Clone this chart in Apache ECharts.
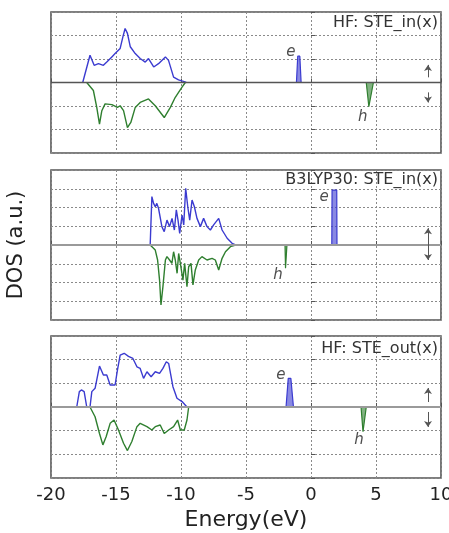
<!DOCTYPE html>
<html>
<head>
<meta charset="utf-8">
<script src="https://cdn.jsdelivr.net/npm/echarts@6/dist/echarts.min.js"></script>
<style>
  html, body { margin: 0; padding: 0; background: #fff; }
  #main { width: 449px; height: 533px; }
</style>
</head>
<body>
<div id="main"></div>
<script>
// energy axis ticks
const energyTicks = [-20, -15, -10, -5, 0, 5, 10];

// panel 1: HF STE_in(x)  [energy, DOS]
const p1Up = [[-17.56,0],[-17.0,1.16],[-16.68,0.73],[-16.35,0.8],[-15.97,0.73],[-15.71,0.87],[-15.32,1.09],[-15.07,1.23],[-14.68,1.45],[-14.47,1.94],[-14.3,2.3],[-14.12,2.09],[-13.9,1.52],[-13.52,1.23],[-13.14,1.02],[-12.75,0.87],[-12.5,1.02],[-12.1,0.66],[-11.73,0.8],[-11.2,1.09],[-10.96,0.94],[-10.57,0.23],[-10.19,0.11],[-9.75,0.04],[-9.6,0]];
const p1Down = [[-17.25,0],[-16.74,-0.34],[-16.48,-1.06],[-16.27,-1.77],[-16.09,-1.2],[-15.84,-0.91],[-15.32,-0.94],[-14.89,-1.06],[-14.68,-0.99],[-14.42,-1.2],[-14.12,-1.92],[-13.86,-1.7],[-13.52,-1.06],[-13.14,-0.85],[-12.5,-0.7],[-11.98,-0.99],[-11.29,-1.49],[-10.82,-1.06],[-10.44,-0.63],[-9.92,-0.2],[-9.67,0]];
const p1E = [[-1.12,0],[-1.02,1.12],[-0.86,1.12],[-0.76,0]];
const p1H = [[4.25,0],[4.45,-1.03],[4.55,-1.03],[4.8,0]];

// panel 2: B3LYP30 STE_in(x)
const p2Up = [[-12.37,0],[-12.24,2.58],[-12.11,2.22],[-11.98,2.04],[-11.86,2.22],[-11.73,1.96],[-11.6,2.04],[-11.47,0.98],[-11.29,0.71],[-11.08,1.33],[-10.88,0.98],[-10.69,1.42],[-10.51,0.8],[-10.36,1.87],[-10.23,1.33],[-10.1,0.62],[-9.92,1.6],[-9.79,1.07],[-9.64,3.02],[-9.48,2.04],[-9.33,1.33],[-9.15,2.4],[-8.97,2.04],[-8.77,1.42],[-8.51,0.98],[-8.26,1.42],[-8.0,0.98],[-7.74,0.8],[-7.49,1.07],[-7.1,1.42],[-6.84,0.8],[-6.45,0.36],[-6.07,0.09],[-5.8,0]];
const p2Down = [[-12.37,0],[-11.98,-0.27],[-11.8,-0.8],[-11.65,-1.87],[-11.54,-3.2],[-11.39,-2.22],[-11.2,-0.8],[-11.08,-0.62],[-10.88,-0.8],[-10.7,-0.98],[-10.57,-0.36],[-10.44,-0.8],[-10.3,-1.51],[-10.18,-0.45],[-10.05,-0.98],[-9.85,-1.87],[-9.72,-0.98],[-9.54,-2.22],[-9.41,-1.16],[-9.23,-0.98],[-9.08,-2.13],[-8.9,-1.33],[-8.64,-0.8],[-8.39,-0.62],[-8.0,-0.8],[-7.61,-0.71],[-7.36,-0.8],[-7.1,-1.33],[-6.84,-0.71],[-6.58,-0.36],[-6.2,-0.09],[-5.8,0]];
const p2E = [[1.6,0],[1.62,2.93],[1.98,2.93],[2.0,0]];
const p2H = [[-2.0,0],[-1.96,-1.24],[-1.88,-1.24],[-1.85,0]];

// panel 3: HF STE_out(x)
const p3Up = [[-18.02,0],[-17.82,0.65],[-17.66,0.72],[-17.45,0.65],[-17.25,0],[-17.0,0],[-16.86,0.65],[-16.61,0.79],[-16.27,1.73],[-15.97,1.35],[-15.71,1.35],[-15.45,0.93],[-15.07,0.93],[-14.89,1.56],[-14.68,2.19],[-14.37,2.27],[-14.04,2.14],[-13.7,2.05],[-13.39,1.7],[-13.14,1.63],[-12.88,1.21],[-12.62,1.49],[-12.3,1.28],[-11.98,1.49],[-11.65,1.42],[-11.39,1.63],[-11.13,1.91],[-10.95,1.84],[-10.62,0.86],[-10.31,0.37],[-9.92,0.23],[-9.54,0]];
const p3Down = [[-17.0,0],[-16.61,-0.41],[-16.27,-1.12],[-16.01,-1.6],[-15.76,-1.26],[-15.45,-0.69],[-15.15,-0.55],[-14.81,-0.97],[-14.42,-1.53],[-14.12,-1.84],[-13.78,-1.46],[-13.39,-0.83],[-13.14,-0.69],[-12.62,-0.83],[-12.24,-0.97],[-11.98,-0.83],[-11.6,-0.76],[-11.29,-1.12],[-10.95,-0.97],[-10.57,-0.83],[-10.26,-0.55],[-10.05,-0.97],[-9.75,-0.97],[-9.54,-0.55],[-9.41,0]];
const p3E = [[-1.92,0],[-1.75,1.21],[-1.55,1.21],[-1.35,0]];
const p3H = [[3.85,0],[4.0,-1.04],[4.1,-1.04],[4.25,0]];

// e / h tags  [text, energy, DOS]
const p1Tags = [['e', -1.54, 1.28], ['h', 3.98, -1.48]];
const p2Tags = [['e', 1.0, 2.58], ['h', -2.54, -1.6]];
const p3Tags = [['e', -2.31, 1.35], ['h', 3.69, -1.39]];

const panelTitles = ['HF: STE_in(x)', 'B3LYP30: STE_in(x)', 'HF: STE_out(x)'];
const dosRanges = [3, 4, 3];

const BLUE = '#3b3bd0';
const GREEN = '#2f7f2f';

const grids = [
    {left: 51, top: 12, width: 390, height: 141},
    {left: 51, top: 170, width: 390, height: 150},
    {left: 51, top: 336, width: 390, height: 142}
];

const dotted = {show: true, lineStyle: {color: '#8a8a8a', type: [2, 2], width: 1}};

let myChart = echarts.init(document.getElementById('main'));

let xAxes = [], yAxes = [], series = [];

grids.forEach((g, i) => {
    const last = i === grids.length - 1;
    xAxes.push({
        type: 'value', gridIndex: i, min: energyTicks[0], max: energyTicks[energyTicks.length - 1], interval: 5,
        axisLine: {show: false},
        axisTick: {show: true, inside: true, length: 4, lineStyle: {color: '#555'}},
        axisLabel: {show: last, fontSize: 18, color: '#222', fontFamily: 'DejaVu Sans', margin: 8},
        splitLine: dotted,
        name: last ? 'Energy(eV)' : '',
        nameLocation: 'middle', nameGap: 31,
        nameTextStyle: {fontSize: 22, color: '#222', fontFamily: 'DejaVu Sans'}
    });
    yAxes.push({
        type: 'value', gridIndex: i, min: -dosRanges[i], max: dosRanges[i], interval: 1,
        axisLine: {show: false},
        axisTick: {show: true, inside: true, length: 4, lineStyle: {color: '#555'}},
        axisLabel: {show: false},
        splitLine: dotted,
        name: i === 1 ? 'DOS (a.u.)' : '',
        nameLocation: 'middle', nameGap: 24,
        nameTextStyle: {fontSize: 21, color: '#222', fontFamily: 'DejaVu Sans'}
    });
});

const curves = [[p1Up, p1Down, p1E, p1H], [p2Up, p2Down, p2E, p2H], [p3Up, p3Down, p3E, p3H]];
const tags = [p1Tags, p2Tags, p3Tags];

// zero line + spin arrows
const zeroStyles = [{color: '#555', width: 1.3}, {color: '#9a9a9a', width: 2.2}, {color: '#9a9a9a', width: 2.2}];
const arrows = [
    [[[9, 0.22], [9, 0.75], 'none', 'arrow'], [[9, -0.42], [9, -0.85], 'none', 'arrow']],
    [[[9, 0.9], [9, -0.8], 'arrow', 'arrow']],
    [[[9, 0.21], [9, 0.8], 'none', 'arrow'], [[9, -0.21], [9, -0.84], 'none', 'arrow']]
];

curves.forEach((c, i) => {
    const [up, down, e, h] = c;
    const base = {type: 'line', xAxisIndex: i, yAxisIndex: i, showSymbol: false, symbol: 'none', silent: true, animation: false};
    series.push(Object.assign({}, base, {
        data: [],
        markLine: {
            silent: true, animation: false, symbolSize: 6, symbol: ['none', 'none'],
            label: {show: false},
            data: [{yAxis: 0, lineStyle: Object.assign({type: 'solid'}, zeroStyles[i])}]
                .concat(arrows[i].map(a => [
                    {coord: a[0], symbol: a[2], lineStyle: {color: '#555', width: 1, type: 'solid'}},
                    {coord: a[1], symbol: a[3]}
                ]))
        }
    }));
    series.push(Object.assign({}, base, {data: up, lineStyle: {color: BLUE, width: 1.4}}));
    series.push(Object.assign({}, base, {data: down, lineStyle: {color: GREEN, width: 1.4}}));
    series.push(Object.assign({}, base, {data: e, lineStyle: {color: BLUE, width: 1.2}, areaStyle: {color: BLUE, opacity: 0.6}}));
    series.push(Object.assign({}, base, {data: h, lineStyle: {color: GREEN, width: 1.2}, areaStyle: {color: GREEN, opacity: 0.6}}));
    series.push({
        type: 'scatter', xAxisIndex: i, yAxisIndex: i, symbolSize: 0, silent: true, animation: false,
        data: tags[i].map(t => ({value: [t[1], t[2]], name: t[0]})),
        label: {show: true, position: 'inside', formatter: p => p.name, fontSize: 15, fontStyle: 'italic', color: '#222', fontFamily: 'DejaVu Sans'}
    });
});

// specify chart configuration item and data
let option = {
    animation: false,
    title: panelTitles.map((t, i) => ({
        text: t, right: 11, top: [15, 172, 341][i], padding: 0,
        textStyle: {fontSize: 16, fontWeight: 'normal', color: '#333', fontFamily: 'DejaVu Sans'}
    })),
    grid: grids.map(g => Object.assign({show: true, outerBoundsMode: 'none', containLabel: false, borderColor: '#555', borderWidth: 1.6, backgroundColor: 'transparent'}, g)),
    xAxis: xAxes,
    yAxis: yAxes,
    series: series
};

myChart.setOption(option);
</script>
</body>
</html>
